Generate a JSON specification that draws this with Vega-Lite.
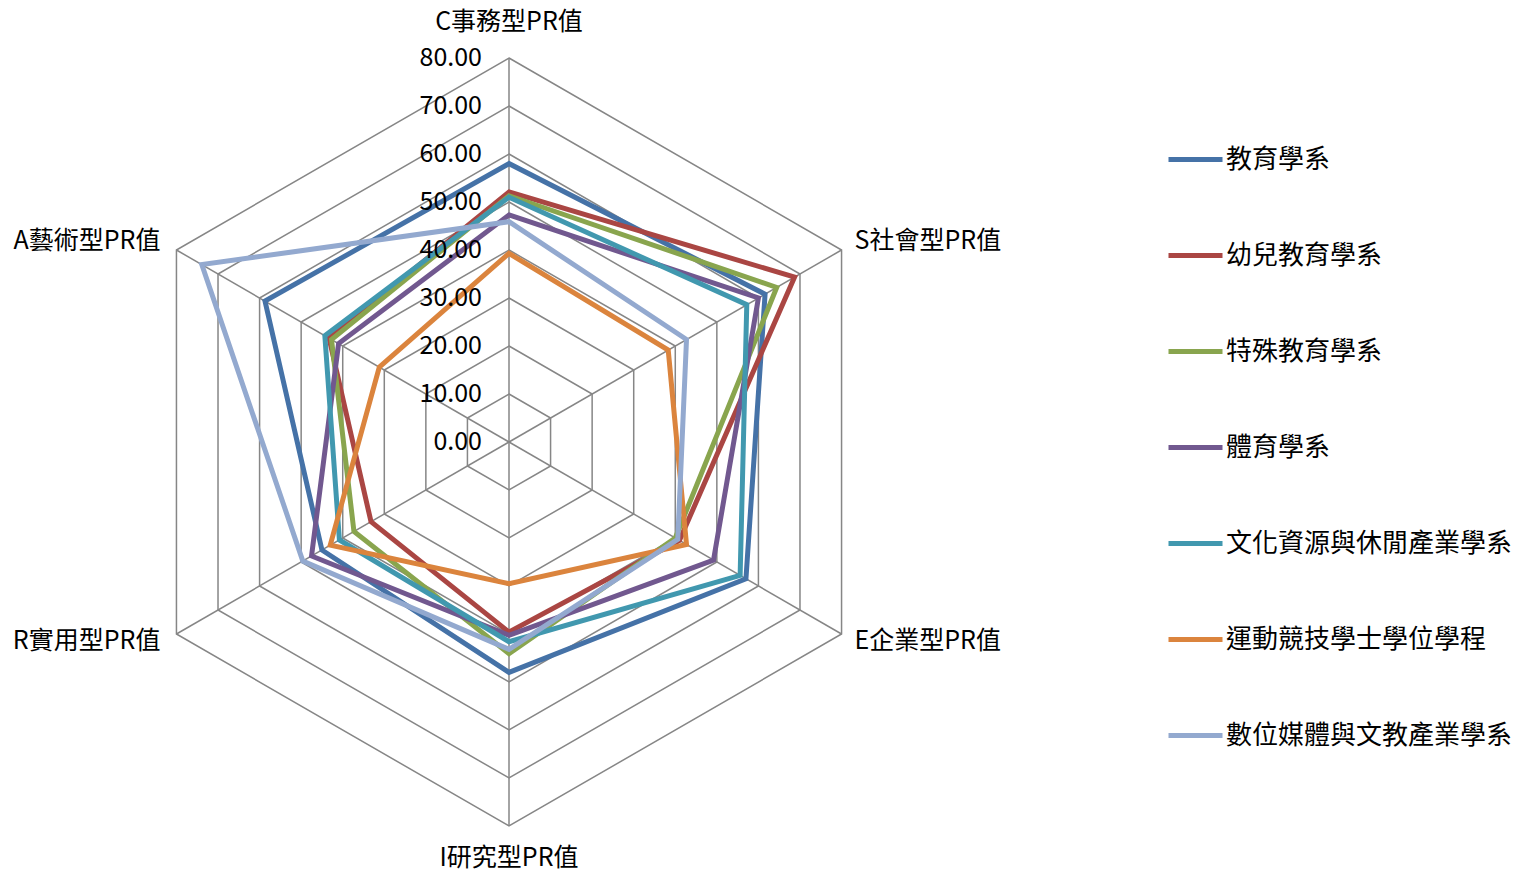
{
  "$schema": "https://vega.github.io/schema/vega-lite/v6.json",
  "width": 1525,
  "height": 875,
  "autosize": {"type": "none"},
  "padding": 0,
  "background": "white",
  "config": {"view": {"stroke": null}, "font": "Noto Sans CJK TC"},
  "datasets": {
    "scores": [
      {"dept": "教育學系", "k": 0, "value": 58.0},
      {"dept": "教育學系", "k": 1, "value": 61.6},
      {"dept": "教育學系", "k": 2, "value": 57.0},
      {"dept": "教育學系", "k": 3, "value": 48.0},
      {"dept": "教育學系", "k": 4, "value": 45.0},
      {"dept": "教育學系", "k": 5, "value": 58.7},
      {"dept": "幼兒教育學系", "k": 0, "value": 52.1},
      {"dept": "幼兒教育學系", "k": 1, "value": 68.7},
      {"dept": "幼兒教育學系", "k": 2, "value": 41.0},
      {"dept": "幼兒教育學系", "k": 3, "value": 39.6},
      {"dept": "幼兒教育學系", "k": 4, "value": 33.2},
      {"dept": "幼兒教育學系", "k": 5, "value": 43.3},
      {"dept": "特殊教育學系", "k": 0, "value": 51.3},
      {"dept": "特殊教育學系", "k": 1, "value": 64.4},
      {"dept": "特殊教育學系", "k": 2, "value": 40.0},
      {"dept": "特殊教育學系", "k": 3, "value": 44.1},
      {"dept": "特殊教育學系", "k": 4, "value": 37.3},
      {"dept": "特殊教育學系", "k": 5, "value": 42.7},
      {"dept": "體育學系", "k": 0, "value": 47.3},
      {"dept": "體育學系", "k": 1, "value": 60.0},
      {"dept": "體育學系", "k": 2, "value": 49.2},
      {"dept": "體育學系", "k": 3, "value": 40.3},
      {"dept": "體育學系", "k": 4, "value": 47.5},
      {"dept": "體育學系", "k": 5, "value": 41.0},
      {"dept": "文化資源與休閒產業學系", "k": 0, "value": 51.0},
      {"dept": "文化資源與休閒產業學系", "k": 1, "value": 57.2},
      {"dept": "文化資源與休閒產業學系", "k": 2, "value": 55.6},
      {"dept": "文化資源與休閒產業學系", "k": 3, "value": 41.6},
      {"dept": "文化資源與休閒產業學系", "k": 4, "value": 40.8},
      {"dept": "文化資源與休閒產業學系", "k": 5, "value": 44.3},
      {"dept": "運動競技學士學位學程", "k": 0, "value": 39.3},
      {"dept": "運動競技學士學位學程", "k": 1, "value": 38.3},
      {"dept": "運動競技學士學位學程", "k": 2, "value": 42.7},
      {"dept": "運動競技學士學位學程", "k": 3, "value": 29.5},
      {"dept": "運動競技學士學位學程", "k": 4, "value": 43.0},
      {"dept": "運動競技學士學位學程", "k": 5, "value": 31.2},
      {"dept": "數位媒體與文教產業學系", "k": 0, "value": 45.9},
      {"dept": "數位媒體與文教產業學系", "k": 1, "value": 42.7},
      {"dept": "數位媒體與文教產業學系", "k": 2, "value": 40.6},
      {"dept": "數位媒體與文教產業學系", "k": 3, "value": 43.2},
      {"dept": "數位媒體與文教產業學系", "k": 4, "value": 49.6},
      {"dept": "數位媒體與文教產業學系", "k": 5, "value": 73.9}
    ],
    "axes": [
      {"k": 0, "name": "C事務型PR值"},
      {"k": 1, "name": "S社會型PR值"},
      {"k": 2, "name": "E企業型PR值"},
      {"k": 3, "name": "I研究型PR值"},
      {"k": 4, "name": "R實用型PR值"},
      {"k": 5, "name": "A藝術型PR值"}
    ],
    "ticks": [
      {"level": 0}, {"level": 10}, {"level": 20}, {"level": 30}, {"level": 40},
      {"level": 50}, {"level": 60}, {"level": 70}, {"level": 80}
    ],
    "grid": [
      {"level": 10, "k": 0}, {"level": 10, "k": 1}, {"level": 10, "k": 2}, {"level": 10, "k": 3}, {"level": 10, "k": 4}, {"level": 10, "k": 5},
      {"level": 20, "k": 0}, {"level": 20, "k": 1}, {"level": 20, "k": 2}, {"level": 20, "k": 3}, {"level": 20, "k": 4}, {"level": 20, "k": 5},
      {"level": 30, "k": 0}, {"level": 30, "k": 1}, {"level": 30, "k": 2}, {"level": 30, "k": 3}, {"level": 30, "k": 4}, {"level": 30, "k": 5},
      {"level": 40, "k": 0}, {"level": 40, "k": 1}, {"level": 40, "k": 2}, {"level": 40, "k": 3}, {"level": 40, "k": 4}, {"level": 40, "k": 5},
      {"level": 50, "k": 0}, {"level": 50, "k": 1}, {"level": 50, "k": 2}, {"level": 50, "k": 3}, {"level": 50, "k": 4}, {"level": 50, "k": 5},
      {"level": 60, "k": 0}, {"level": 60, "k": 1}, {"level": 60, "k": 2}, {"level": 60, "k": 3}, {"level": 60, "k": 4}, {"level": 60, "k": 5},
      {"level": 70, "k": 0}, {"level": 70, "k": 1}, {"level": 70, "k": 2}, {"level": 70, "k": 3}, {"level": 70, "k": 4}, {"level": 70, "k": 5},
      {"level": 80, "k": 0}, {"level": 80, "k": 1}, {"level": 80, "k": 2}, {"level": 80, "k": 3}, {"level": 80, "k": 4}, {"level": 80, "k": 5}
    ]
  },
  "layer": [
    {
      "data": {"name": "grid"},
      "transform": [
        {"calculate": "datum.level * sin(datum.k * PI / 3)", "as": "gx"},
        {"calculate": "datum.level * cos(datum.k * PI / 3)", "as": "gy"}
      ],
      "mark": {"type": "line", "interpolate": "linear-closed", "stroke": "#868686", "strokeWidth": 1.5},
      "encoding": {
        "x": {"field": "gx", "type": "quantitative", "axis": null, "scale": {"domain": [-106.042, 211.667], "nice": false, "zero": false}},
        "y": {"field": "gy", "type": "quantitative", "axis": null, "scale": {"domain": [-90.208, 92.083], "nice": false, "zero": false}},
        "detail": {"field": "level", "type": "nominal"},
        "order": {"field": "k", "type": "quantitative"}
      }
    },
    {
      "data": {"name": "axes"},
      "transform": [
        {"calculate": "80 * sin(datum.k * PI / 3)", "as": "ox"},
        {"calculate": "80 * cos(datum.k * PI / 3)", "as": "oy"}
      ],
      "mark": {"type": "rule", "stroke": "#868686", "strokeWidth": 1.5},
      "encoding": {
        "x": {"field": "ox", "type": "quantitative"},
        "y": {"field": "oy", "type": "quantitative"},
        "x2": {"datum": 0},
        "y2": {"datum": 0}
      }
    },
    {
      "data": {"name": "scores"},
      "transform": [
        {"calculate": "datum.value * sin(datum.k * PI / 3)", "as": "px"},
        {"calculate": "datum.value * cos(datum.k * PI / 3)", "as": "py"}
      ],
      "mark": {"type": "line", "interpolate": "linear-closed", "strokeWidth": 5, "strokeJoin": "miter"},
      "encoding": {
        "x": {"field": "px", "type": "quantitative"},
        "y": {"field": "py", "type": "quantitative"},
        "order": {"field": "k", "type": "quantitative"},
        "color": {
          "field": "dept",
          "type": "nominal",
          "scale": {
            "domain": ["教育學系", "幼兒教育學系", "特殊教育學系", "體育學系", "文化資源與休閒產業學系", "運動競技學士學位學程", "數位媒體與文教產業學系"],
            "range": ["#4572A7", "#AA4643", "#89A54E", "#71588F", "#4198AF", "#DB843D", "#93A9CF"]
          },
          "legend": {
            "title": null,
            "orient": "none",
            "legendX": 1166,
            "legendY": 130,
            "padding": 0,
            "symbolType": "stroke",
            "symbolSize": 2916,
            "symbolStrokeWidth": 5,
            "labelFontSize": 26,
            "labelFont": "Noto Sans CJK TC",
            "labelColor": "#000000",
            "labelOffset": 1,
            "labelLimit": 0,
            "rowPadding": 53
          }
        }
      }
    },
    {
      "data": {"name": "ticks"},
      "mark": {"type": "text", "align": "right", "baseline": "middle", "dx": -27, "fontSize": 25, "color": "#000000"},
      "encoding": {
        "x": {"datum": 0, "type": "quantitative"},
        "y": {"field": "level", "type": "quantitative"},
        "text": {"field": "level", "type": "quantitative", "format": ".2f"}
      }
    },
    {
      "data": {"name": "axes"},
      "transform": [
        {"calculate": "80 * sin(datum.k * PI / 3)", "as": "ox"},
        {"calculate": "80 * cos(datum.k * PI / 3)", "as": "oy"},
        {"filter": "datum.k == 0"}
      ],
      "mark": {"type": "text", "align": "center", "baseline": "middle", "dy": -36, "fontSize": 25, "color": "#000000"},
      "encoding": {"x": {"field": "ox", "type": "quantitative"}, "y": {"field": "oy", "type": "quantitative"}, "text": {"field": "name", "type": "nominal"}}
    },
    {
      "data": {"name": "axes"},
      "transform": [
        {"calculate": "80 * sin(datum.k * PI / 3)", "as": "ox"},
        {"calculate": "80 * cos(datum.k * PI / 3)", "as": "oy"},
        {"filter": "datum.k == 3"}
      ],
      "mark": {"type": "text", "align": "center", "baseline": "middle", "dy": 32, "fontSize": 25, "color": "#000000"},
      "encoding": {"x": {"field": "ox", "type": "quantitative"}, "y": {"field": "oy", "type": "quantitative"}, "text": {"field": "name", "type": "nominal"}}
    },
    {
      "data": {"name": "axes"},
      "transform": [
        {"calculate": "80 * sin(datum.k * PI / 3)", "as": "ox"},
        {"calculate": "80 * cos(datum.k * PI / 3)", "as": "oy"},
        {"filter": "datum.k == 1"}
      ],
      "mark": {"type": "text", "align": "left", "baseline": "middle", "dx": 13, "dy": -9, "fontSize": 25, "color": "#000000"},
      "encoding": {"x": {"field": "ox", "type": "quantitative"}, "y": {"field": "oy", "type": "quantitative"}, "text": {"field": "name", "type": "nominal"}}
    },
    {
      "data": {"name": "axes"},
      "transform": [
        {"calculate": "80 * sin(datum.k * PI / 3)", "as": "ox"},
        {"calculate": "80 * cos(datum.k * PI / 3)", "as": "oy"},
        {"filter": "datum.k == 2"}
      ],
      "mark": {"type": "text", "align": "left", "baseline": "middle", "dx": 13, "dy": 7, "fontSize": 25, "color": "#000000"},
      "encoding": {"x": {"field": "ox", "type": "quantitative"}, "y": {"field": "oy", "type": "quantitative"}, "text": {"field": "name", "type": "nominal"}}
    },
    {
      "data": {"name": "axes"},
      "transform": [
        {"calculate": "80 * sin(datum.k * PI / 3)", "as": "ox"},
        {"calculate": "80 * cos(datum.k * PI / 3)", "as": "oy"},
        {"filter": "datum.k == 4"}
      ],
      "mark": {"type": "text", "align": "right", "baseline": "middle", "dx": -16, "dy": 7, "fontSize": 25, "color": "#000000"},
      "encoding": {"x": {"field": "ox", "type": "quantitative"}, "y": {"field": "oy", "type": "quantitative"}, "text": {"field": "name", "type": "nominal"}}
    },
    {
      "data": {"name": "axes"},
      "transform": [
        {"calculate": "80 * sin(datum.k * PI / 3)", "as": "ox"},
        {"calculate": "80 * cos(datum.k * PI / 3)", "as": "oy"},
        {"filter": "datum.k == 5"}
      ],
      "mark": {"type": "text", "align": "right", "baseline": "middle", "dx": -16, "dy": -9, "fontSize": 25, "color": "#000000"},
      "encoding": {"x": {"field": "ox", "type": "quantitative"}, "y": {"field": "oy", "type": "quantitative"}, "text": {"field": "name", "type": "nominal"}}
    }
  ]
}
